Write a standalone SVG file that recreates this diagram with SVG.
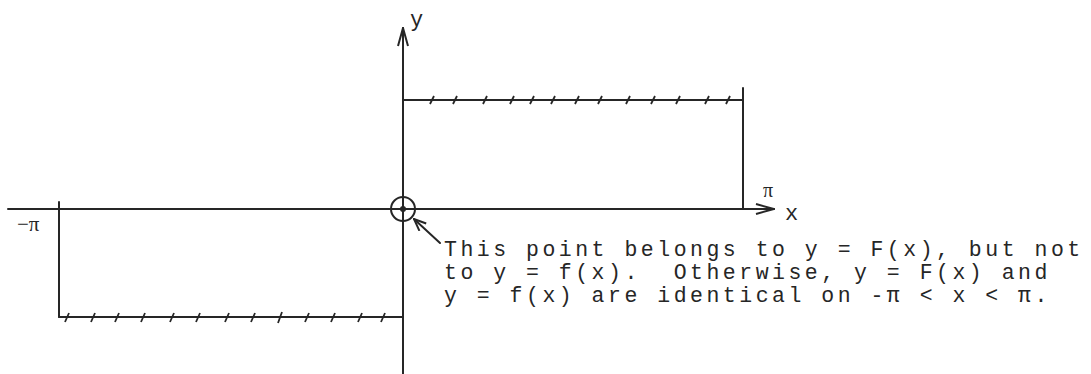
<svg xmlns="http://www.w3.org/2000/svg" width="1091" height="374" viewBox="0 0 1091 374">
<defs>
<style>
.ln{stroke:#262626;stroke-width:2;fill:none;stroke-linecap:round}
.tk{stroke:#262626;stroke-width:1.8;fill:none}
.mono{font-family:"Liberation Mono","Courier New",monospace;fill:#262626}
.ser{font-family:"Liberation Serif","Times New Roman",serif;fill:#262626}
</style>
<marker id="arr" viewBox="0 0 20 12" refX="19" refY="6" markerWidth="20" markerHeight="12" markerUnits="userSpaceOnUse" orient="auto">
<path d="M1 1 L19 6 L1 11" fill="none" stroke="#262626" stroke-width="2"/>
</marker>
<marker id="arr2" viewBox="0 0 14 12" refX="13" refY="6" markerWidth="14" markerHeight="12" markerUnits="userSpaceOnUse" orient="auto">
<path d="M1 1 L13 6 L1 11" fill="none" stroke="#262626" stroke-width="2"/>
</marker>
</defs>
<rect width="1091" height="374" fill="#ffffff"/>
<g id="axes">
<line class="ln" x1="8" y1="209" x2="774" y2="209" marker-end="url(#arr)"/>
<line class="ln" x1="403" y1="374" x2="403" y2="28" marker-end="url(#arr)"/>
<text class="mono" x="410" y="26" font-size="22">y</text>
<text class="mono" x="785" y="220" font-size="22">x</text>
<text class="ser" x="763" y="197" font-size="20">π</text>
<text class="ser" x="17" y="231" font-size="21">−π</text>
</g>
<g id="upper-branch">
<line class="ln" x1="403" y1="100" x2="743" y2="100"/>
<line class="ln" x1="743" y1="88" x2="743" y2="209"/>
<path class="tk" d="M430 104 l4 -8 M453 104 l4 -8 M483 104 l4 -8 M510 104 l4 -8 M530 104 l4 -8 M551 104 l4 -8 M575 104 l4 -8 M598 104 l4 -8 M626 104 l4 -8 M651 104 l4 -8 M676 104 l4 -8 M705 104 l4 -8 M726 104 l4 -8"/>
</g>
<g id="lower-branch">
<line class="ln" x1="59" y1="202" x2="59" y2="317"/>
<line class="ln" x1="59" y1="317" x2="403" y2="317"/>
<path class="tk" d="M65 322 l4 -9 M91 322 l4 -9 M115 322 l4 -9 M141 322 l4 -9 M170 322 l4 -9 M196 322 l4 -9 M225 322 l4 -9 M251 322 l4 -9 M278 323 l4 -11 M305 322 l4 -9 M331 322 l4 -9 M358 322 l4 -9 M381 322 l4 -9"/>
</g>
<g id="origin-point">
<circle cx="403" cy="209" r="12" fill="none" stroke="#262626" stroke-width="2"/>
<circle cx="403" cy="209" r="3" fill="#262626"/>
</g>
<g id="connectors">
<line class="ln" x1="440" y1="243" x2="414" y2="219" marker-end="url(#arr2)"/>
</g>
<g id="annotation">
<text class="mono" font-size="21.5" letter-spacing="3.5" xml:space="preserve"><tspan x="444" y="256">This point belongs to y = F(x), but not</tspan><tspan x="444" y="279">to y = f(x).  Otherwise, y = F(x) and</tspan><tspan x="444" y="302">y = f(x) are identical on -π &lt; x &lt; π.</tspan></text>
</g>
</svg>
